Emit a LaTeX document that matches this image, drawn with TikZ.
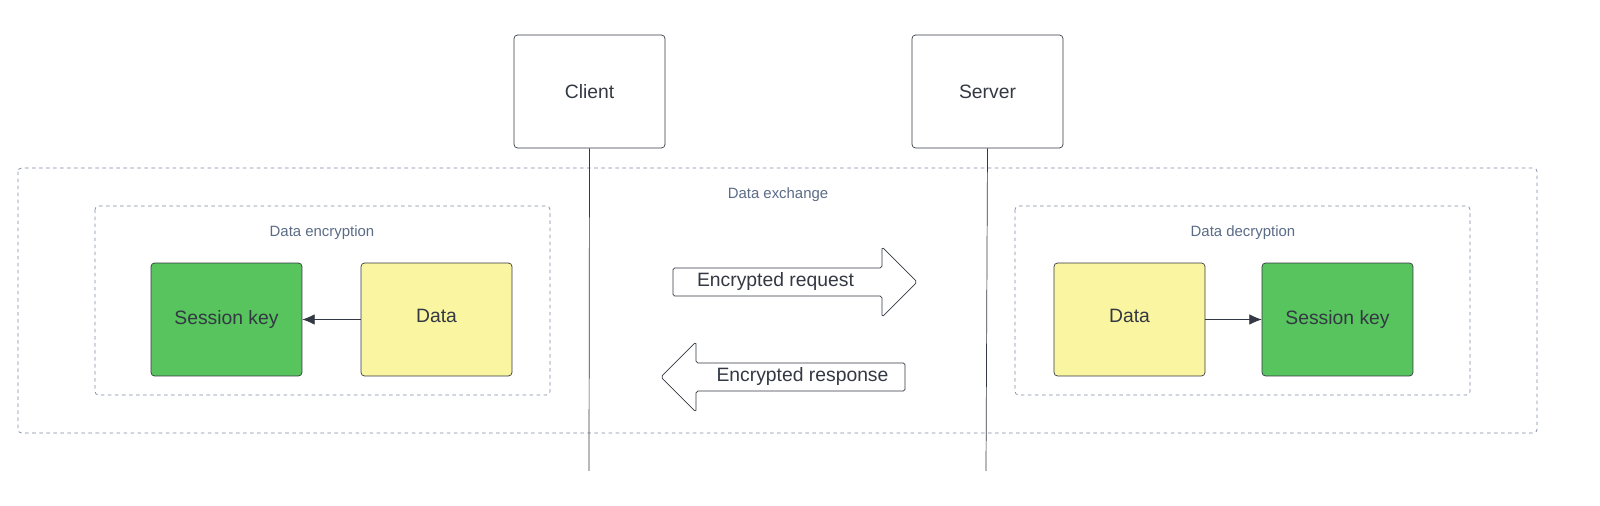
\documentclass[tikz,border=0pt]{standalone}
\usepackage{fontspec}
\setmainfont{Liberation Sans}
\usepackage{tikz}
\usetikzlibrary{positioning, shapes.arrows, arrows.meta}
\definecolor{keygreen}{HTML}{57C45E}
\definecolor{datayellow}{HTML}{FAF5A0}
\definecolor{framegrey}{HTML}{7D88A0}
\definecolor{labelblue}{HTML}{5A6B86}
\definecolor{inkgrey}{HTML}{333842}
\tikzset{
  actor/.style={draw=inkgrey, rounded corners=2pt, minimum width=3.02cm, minimum height=2.26cm, font=\fontsize{11}{13}\selectfont, text=inkgrey},
  block/.style={draw=inkgrey, rounded corners=2pt, minimum width=3.02cm, minimum height=2.26cm, font=\fontsize{11}{13}\selectfont, text=inkgrey},
  frame/.style={draw=framegrey, dash pattern=on 2pt off 2pt, rounded corners=2pt},
  framelabel/.style={text=labelblue, font=\fontsize{8.5}{10}\selectfont},
  msg/.style={single arrow, draw=inkgrey, fill=white, minimum height=4.88cm, minimum width=1.4cm, single arrow head extend=0.33cm, inner sep=1pt, font=\fontsize{11}{13}\selectfont, text=inkgrey, rounded corners=1pt}
}
\begin{document}
\begin{tikzpicture}[x=0.02cm, y=-0.02cm]
  \useasboundingbox (0,0) rectangle (1600,506);
  % frames
  \draw[frame] (18,168) rectangle (1537,433);
  \draw[frame] (95,206) rectangle (550,395);
  \draw[frame] (1015,206) rectangle (1470,395);
  \node[framelabel] (exlabel) at (778,195) {Data exchange};
  \node[framelabel] (enclabel) at (322,233) {Data encryption};
  \node[framelabel] (declabel) at (1243,233) {Data decryption};
  % actors and lifelines
  \node[actor] (client) at (589.5,91.5) {Client};
  \node[actor] (server) at (987.5,91.5) {Server};
  \coordinate (clientend) at (589,471);
  \coordinate (serverend) at (986,471);
  \draw[inkgrey] (client.south) -- (clientend);
  \draw[inkgrey] (server.south) -- (serverend);
  % encryption side
  \node[block, fill=keygreen] (keyL) at (226.5,319.5) {Session key};
  \node[block, fill=datayellow] (dataL) at (436.5,319.5) {\raisebox{4pt}{Data}};
  \draw[-{Latex[length=7pt,width=6pt]}, inkgrey] (dataL) -- (keyL);
  % decryption side
  \node[block, fill=datayellow] (dataR) at (1129.5,319.5) {\raisebox{4pt}{Data}};
  \node[block, fill=keygreen] (keyR) at (1337.5,319.5) {Session key};
  \draw[-{Latex[length=7pt,width=6pt]}, inkgrey] (dataR) -- (keyR);
  % messages
  \node[msg] (request) at (788,282) {\hspace*{-0.5cm}Encrypted request};
  \node[msg, shape border rotate=180] (response) at (790,377) {\hspace*{0.5cm}Encrypted response};
\end{tikzpicture}
\end{document}
